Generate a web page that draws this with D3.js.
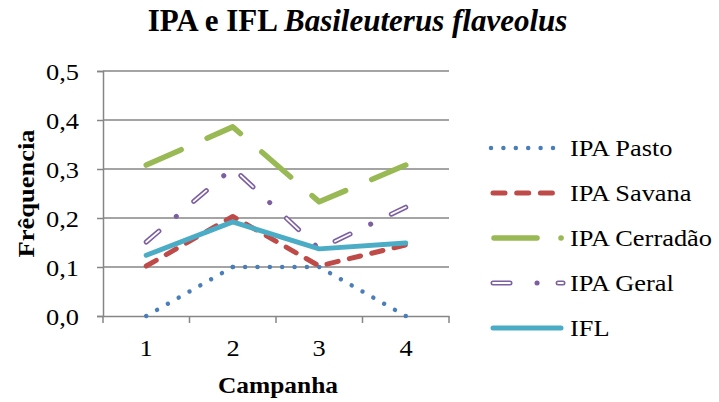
<!DOCTYPE html>
<html>
<head>
<meta charset="utf-8">
<script src="https://cdn.jsdelivr.net/npm/d3@7"></script>
<style>
  body { margin: 0; background: white; }
  #chart { position: relative; width: 719px; height: 402px; }
  #chart svg { position: absolute; left: 0; top: 0; display: block; }
  .lbl {
    position: absolute; white-space: nowrap;
    font-family: 'Liberation Serif';
    font-size: 24px; line-height: 24px; height: 24px; color: black;
  }
</style>
</head>
<body>
<div id="chart"></div>
<script>
const FONT = 'Liberation Serif'
const AXIS_GREY = '#868686'
const STRETCH = 1.1

// data
const campanhas = ['1', '2', '3', '4']
const yTicks = [0, 0.1, 0.2, 0.3, 0.4, 0.5]
const ipaPasto = [0, 0.1, 0.1, 0]
const ipaSavana = [0.102, 0.203, 0.102, 0.145]
const ipaCerradao = [0.308, 0.386, 0.233, 0.308]
const ipaGeral = [0.151, 0.302, 0.137, 0.222]
const ifl = [0.124, 0.192, 0.137, 0.149]

const seriesNames = ['IPA Pasto', 'IPA Savana', 'IPA Cerradão', 'IPA Geral', 'IFL']
const seriesValues = [ipaPasto, ipaSavana, ipaCerradao, ipaGeral, ifl]

// Excel-like line styles
const styles = [
  { color: '#4a7ebb', width: 4.5, dots: 11.8, legendDash: [0.01, 12.39], lx: [491, 554] },
  { color: '#be4b48', width: 5, dash: [12, 12], legendDash: [12, 11.7], lx: [493, 553] },
  { color: '#98b954', width: 5.5, dash: [37, 27.5], legendDash: [43, 24, 0.1, 100], lx: [494, 562] },
  { color: '#7d5fa0', width: 5, dash: [16, 22, 0.1, 22], hollow: [16, 44.1],
    legendDash: [17, 27, 0.1, 21, 100], legendHollow: [17, 48.1, 100], lx: [493, 563] },
  { color: '#4bacc6', width: 5, dash: null, lx: [493, 561] }
]

const width = 719, height = 402
const margin = { left: 103, right: 270, top: 71, bottom: 86 }

const chart = d3.select('#chart')
const svg = chart.append('svg')
  .attr('width', width).attr('height', height)

const x = d3.scaleBand().domain(campanhas).range([margin.left, width - margin.right])
const y = d3.scaleLinear().domain([0, 0.5]).range([height - margin.bottom, margin.top])

// gridlines
svg.append('g').selectAll('line').data(yTicks.slice(1)).join('line')
  .attr('x1', margin.left).attr('x2', width - margin.right)
  .attr('y1', d => y(d)).attr('y2', d => y(d))
  .attr('stroke', AXIS_GREY).attr('stroke-width', 1.5)

// y axis (labels drawn as html text below)
const yAxis = svg.append('g').attr('transform', `translate(${margin.left},0)`)
  .call(d3.axisLeft(y).tickValues(yTicks).tickSize(6).tickFormat(''))
yAxis.select('.domain').attr('stroke', AXIS_GREY).attr('stroke-width', 1.5)
yAxis.selectAll('.tick line').attr('stroke', AXIS_GREY).attr('stroke-width', 1.5)
yAxis.selectAll('text').remove()

// x axis
const xAxis = svg.append('g').attr('transform', `translate(0,${y(0)})`)
  .call(d3.axisBottom(x).tickSize(0).tickFormat(''))
xAxis.select('.domain').attr('stroke', AXIS_GREY).attr('stroke-width', 1.5)
xAxis.selectAll('text').remove()
const bounds = campanhas.map(c => x(c)).concat([x(campanhas[campanhas.length - 1]) + x.bandwidth()])
xAxis.selectAll('.bound').data(bounds).join('line').attr('class', 'bound')
  .attr('x1', d => d).attr('x2', d => d).attr('y1', 0).attr('y2', 7)
  .attr('stroke', AXIS_GREY).attr('stroke-width', 1.5)

// tick labels
const fmt = d => d3.format('.1f')(d).replace('.', ',')
yTicks.forEach(t => {
  chart.append('div').attr('class', 'lbl')
    .style('left', '19px').style('width', '60px').style('text-align', 'right')
    .style('top', (y(t) - 11) + 'px')
    .style('transform-origin', 'right center').style('transform', `scaleX(${STRETCH})`)
    .text(fmt(t))
})
campanhas.forEach(c => {
  const cx = x(c) + x.bandwidth() / 2
  chart.append('div').attr('class', 'lbl')
    .style('left', (cx - 20) + 'px').style('width', '40px').style('text-align', 'center')
    .style('top', '336px')
    .style('transform', `scaleX(${STRETCH})`)
    .text(c)
})

// fit a dash pattern so the path starts and ends on a full dash
function fitDash(len, pattern) {
  const period = d3.sum(pattern)
  const n = Math.max(1, Math.round((len - pattern[0]) / period))
  return (len - pattern[0]) / (n * period)
}

// lines
const px = (d, i) => x(campanhas[i]) + x.bandwidth() / 2
const line = d3.line().x(px).y(d => y(d))

const linesG = svg.append('g')
seriesValues.forEach((vals, i) => {
  const s = styles[i]
  if (s.dots) {
    // dotted: one path per segment so a dot sits on every point
    d3.pairs(vals.map((v, j) => [px(v, j), y(v)])).forEach(([a, b]) => {
      const len = Math.hypot(b[0] - a[0], b[1] - a[1])
      const step = len / Math.round(len / s.dots)
      linesG.append('path')
        .attr('d', d3.line()([a, b])).attr('fill', 'none')
        .attr('stroke', s.color).attr('stroke-width', s.width)
        .attr('stroke-linecap', 'round')
        .attr('stroke-dasharray', `0.01,${step - 0.01}`)
    })
    return
  }
  const p = linesG.append('path').datum(vals)
    .attr('d', line).attr('fill', 'none')
    .attr('stroke', s.color).attr('stroke-width', s.width)
    .attr('stroke-linecap', 'round').attr('stroke-linejoin', 'round')
  if (s.dash) {
    const k = fitDash(p.node().getTotalLength(), s.dash)
    p.attr('stroke-dasharray', s.dash.map(v => v * k).join(','))
    if (s.hollow) {
      linesG.append('path').datum(vals)
        .attr('d', line).attr('fill', 'none')
        .attr('stroke', 'white').attr('stroke-width', 1.8)
        .attr('stroke-linecap', 'round').attr('stroke-linejoin', 'round')
        .attr('stroke-dasharray', s.hollow.map(v => v * k).join(','))
    }
  }
})

// legend
const legend = svg.append('g')
seriesNames.forEach((name, i) => {
  const s = styles[i]
  const ly = 148 + i * 45
  legend.append('line')
    .attr('x1', s.lx[0]).attr('x2', s.lx[1]).attr('y1', ly).attr('y2', ly)
    .attr('stroke', s.color).attr('stroke-width', s.width)
    .attr('stroke-linecap', 'round')
    .attr('stroke-dasharray', s.legendDash ? s.legendDash.join(',') : null)
  if (s.legendHollow) {
    legend.append('line')
      .attr('x1', s.lx[0]).attr('x2', s.lx[1]).attr('y1', ly).attr('y2', ly)
      .attr('stroke', 'white').attr('stroke-width', 1.8)
      .attr('stroke-linecap', 'round').attr('stroke-dasharray', s.legendHollow.join(','))
  }
  chart.append('div').attr('class', 'lbl')
    .style('left', '570px').style('top', (ly - 12) + 'px')
    .style('transform-origin', 'left center').style('transform', `scaleX(${STRETCH})`)
    .text(name)
})

// title
const title = svg.append('text')
  .attr('x', 357.5).attr('y', 31).attr('text-anchor', 'middle')
  .attr('font-family', FONT).attr('font-size', 31).attr('font-weight', 'bold')
title.append('tspan').text('IPA e IFL ')
title.append('tspan').attr('font-style', 'italic').text('Basileuterus flaveolus')

// axis titles
svg.append('text')
  .attr('x', 278).attr('y', 393).attr('text-anchor', 'middle')
  .attr('font-family', FONT).attr('font-size', 24).attr('font-weight', 'bold')
  .attr('textLength', 120).attr('lengthAdjust', 'spacingAndGlyphs')
  .text('Campanha')

svg.append('text')
  .attr('transform', `translate(34,${(margin.top + y(0)) / 2}) rotate(-90)`)
  .attr('text-anchor', 'middle')
  .attr('font-family', FONT).attr('font-size', 24).attr('font-weight', 'bold')
  .attr('textLength', 128).attr('lengthAdjust', 'spacingAndGlyphs')
  .text('Frêquencia')
</script>
</body>
</html>
